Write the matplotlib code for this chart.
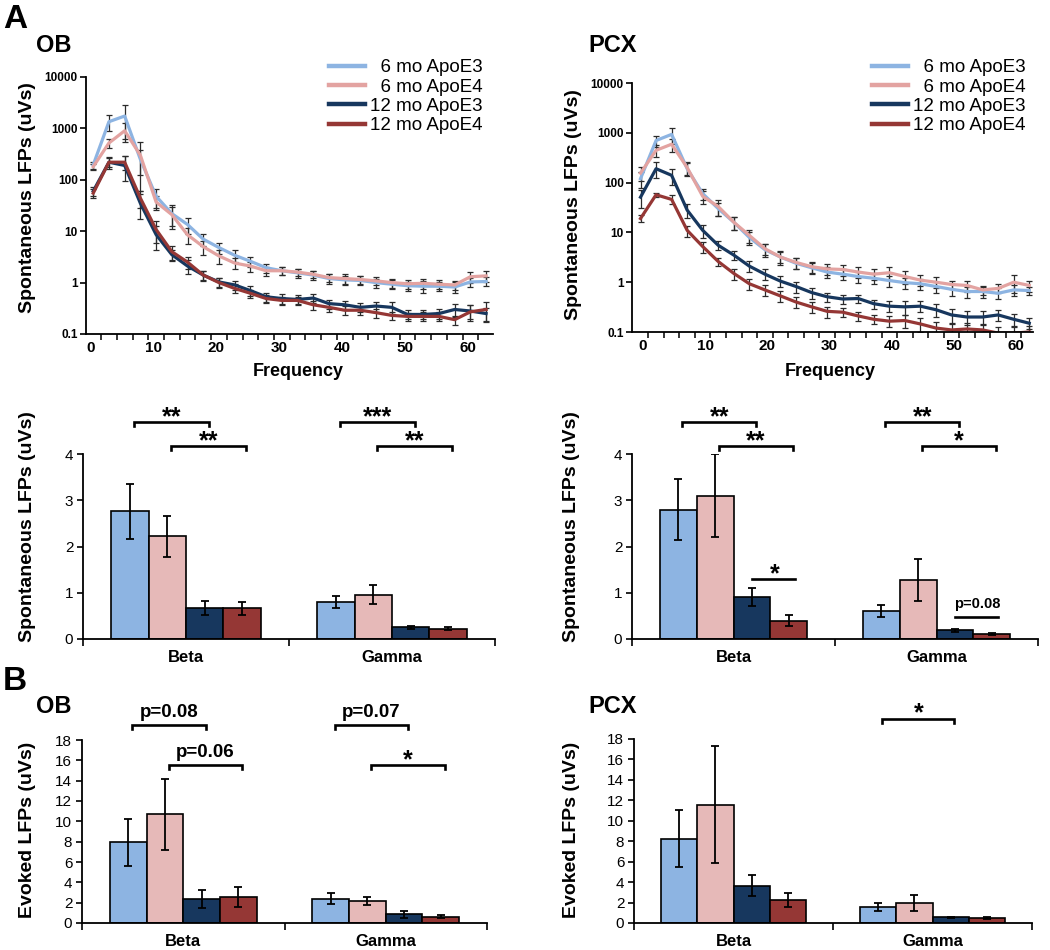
import numpy as np
import matplotlib
matplotlib.use("Agg")
import matplotlib.pyplot as plt
from matplotlib.ticker import FixedLocator, NullLocator, NullFormatter

plt.rcParams['font.family'] = ['Liberation Sans', 'DejaVu Sans']

groups = ['  6 mo ApoE3', '  6 mo ApoE4', '12 mo ApoE3', '12 mo ApoE4']
line_colors = ['#8db4e2', '#e3a3a1', '#17375e', '#953735']
bar_colors = ['#8db4e2', '#e6b9b8', '#17375e', '#953735']
bands = ['Beta', 'Gamma']

# spontaneous LFP spectra (uVs), one value per frequency bin
freq_ob = [0.4, 2.9, 5.4, 7.9, 10.4, 12.9, 15.4, 17.9, 20.4, 22.9, 25.4, 27.9, 30.4,
           32.9, 35.4, 37.9, 40.4, 42.9, 45.4, 47.9, 50.4, 52.9, 55.4, 57.9, 60.4, 62.9]
freq_pcx = [-0.4, 2.1, 4.6, 7.1, 9.6, 12.1, 14.6, 17.1, 19.6, 22.1, 24.6, 27.1, 29.6,
            32.1, 34.6, 37.1, 39.6, 42.1, 44.6, 47.1, 49.6, 52.1, 54.6, 57.1, 59.6, 62.1]

ob_e3_6 = [195, 1350, 1740, 250, 48, 22, 13.5, 7, 4.8, 3.4, 2.6, 1.95, 1.7, 1.55, 1.4,
           1.2, 1.13, 1.1, 1.0, 0.93, 0.87, 0.85, 0.85, 0.82, 1.03, 1.05]
ob_e4_6 = [180, 520, 900, 300, 37, 21, 8.5, 5, 3.3, 2.4, 2.1, 1.7, 1.7, 1.6, 1.45,
           1.25, 1.2, 1.15, 1.08, 1.0, 0.95, 0.97, 0.93, 0.9, 1.3, 1.35]
ob_e3_12 = [60, 220, 190, 35, 8.6, 3.5, 2.1, 1.4, 1.03, 0.9, 0.7, 0.53, 0.49, 0.47, 0.5,
            0.39, 0.37, 0.33, 0.35, 0.33, 0.24, 0.24, 0.25, 0.3, 0.28, 0.25]
ob_e4_12 = [55, 220, 220, 44, 10.8, 4.0, 2.5, 1.4, 1.0, 0.77, 0.62, 0.49, 0.45, 0.45, 0.37,
            0.33, 0.29, 0.29, 0.26, 0.23, 0.22, 0.22, 0.22, 0.19, 0.27, 0.3]

ob_e3_6_rel = [0.15, 0.35, 0.65, 0.5, 0.4, 0.5, 0.35, 0.25, 0.25, 0.25, 0.22, 0.2, 0.18,
               0.2, 0.2, 0.2, 0.2, 0.2, 0.2, 0.2, 0.2, 0.25, 0.2, 0.25, 0.2, 0.2]
ob_e4_6_rel = [0.15, 0.2, 0.4, 0.8, 0.3, 0.4, 0.35, 0.3, 0.3, 0.25, 0.22, 0.2, 0.18,
               0.15, 0.15, 0.18, 0.2, 0.18, 0.18, 0.2, 0.2, 0.22, 0.2, 0.2, 0.25, 0.25]
ob_e3_12_rel = [0.2, 0.25, 0.5, 0.5, 0.5, 0.25, 0.3, 0.2, 0.2, 0.22, 0.2, 0.2, 0.2,
                0.2, 0.2, 0.2, 0.2, 0.2, 0.22, 0.25, 0.2, 0.2, 0.2, 0.3, 0.3, 0.3]
ob_e4_12_rel = [0.2, 0.2, 0.3, 0.35, 0.45, 0.3, 0.25, 0.22, 0.22, 0.2, 0.18, 0.18, 0.18,
                0.18, 0.2, 0.2, 0.2, 0.2, 0.2, 0.18, 0.18, 0.2, 0.2, 0.2, 0.35, 0.4]

pcx_e3_6 = [120, 700, 930, 190, 60, 30, 16, 7.9, 4.5, 3.2, 2.4, 1.95, 1.6, 1.45, 1.3,
            1.2, 1.08, 0.98, 0.93, 0.82, 0.72, 0.65, 0.65, 0.6, 0.7, 0.68]
pcx_e4_6 = [155, 445, 590, 200, 53, 33, 16, 8.7, 4.7, 3.2, 2.5, 2.05, 1.85, 1.8, 1.6,
            1.45, 1.55, 1.3, 1.1, 1.0, 0.9, 0.86, 0.7, 0.75, 1.0, 0.86]
pcx_e3_12 = [51, 190, 140, 28, 11, 5.5, 3.5, 2.1, 1.45, 1.05, 0.82, 0.62, 0.51, 0.46, 0.47,
             0.37, 0.33, 0.32, 0.33, 0.28, 0.22, 0.2, 0.2, 0.22, 0.18, 0.15]
pcx_e4_12 = [19, 57, 46, 11, 5.2, 2.6, 1.5, 0.93, 0.7, 0.53, 0.4, 0.32, 0.26, 0.25, 0.21,
             0.18, 0.165, 0.17, 0.145, 0.12, 0.11, 0.115, 0.11, 0.095, 0.095, 0.1]

pcx_e3_6_rel = [0.35, 0.25, 0.35, 0.3, 0.25, 0.3, 0.3, 0.3, 0.3, 0.3, 0.25, 0.25, 0.25,
                0.25, 0.25, 0.25, 0.25, 0.25, 0.25, 0.25, 0.25, 0.25, 0.25, 0.25, 0.25, 0.2]
pcx_e4_6_rel = [0.3, 0.25, 0.3, 0.3, 0.3, 0.35, 0.3, 0.3, 0.25, 0.25, 0.25, 0.25, 0.25,
                0.25, 0.25, 0.25, 0.3, 0.3, 0.25, 0.25, 0.2, 0.25, 0.2, 0.2, 0.4, 0.25]
pcx_e3_12_rel = [0.4, 0.35, 0.35, 0.3, 0.3, 0.2, 0.2, 0.25, 0.25, 0.25, 0.25, 0.25, 0.2,
                 0.2, 0.2, 0.2, 0.25, 0.3, 0.25, 0.3, 0.3, 0.3, 0.3, 0.25, 0.25, 0.25]
pcx_e4_12_rel = [0.15, 0.1, 0.2, 0.25, 0.25, 0.2, 0.25, 0.25, 0.25, 0.25, 0.25, 0.25, 0.25,
                 0.2, 0.2, 0.2, 0.25, 0.3, 0.3, 0.3, 0.3, 0.3, 0.3, 0.3, 0.3, 0.3]

# band averages: [6mo E3, 6mo E4, 12mo E3, 12mo E4]
ob_spont_beta = [2.76, 2.22, 0.67, 0.66]
ob_spont_beta_err = [0.6, 0.44, 0.16, 0.14]
ob_spont_gamma = [0.79, 0.96, 0.25, 0.22]
ob_spont_gamma_err = [0.13, 0.2, 0.04, 0.03]

pcx_spont_beta = [2.80, 3.10, 0.91, 0.40]
pcx_spont_beta_err = [0.65, 0.89, 0.2, 0.11]
pcx_spont_gamma = [0.60, 1.28, 0.19, 0.11]
pcx_spont_gamma_err = [0.13, 0.46, 0.03, 0.015]

ob_evoked_beta = [7.92, 10.70, 2.36, 2.52]
ob_evoked_beta_err = [2.35, 3.5, 0.9, 0.98]
ob_evoked_gamma = [2.39, 2.16, 0.85, 0.62]
ob_evoked_gamma_err = [0.56, 0.4, 0.36, 0.12]

pcx_evoked_beta = [8.25, 11.57, 3.65, 2.22]
pcx_evoked_beta_err = [2.77, 5.7, 1.0, 0.68]
pcx_evoked_gamma = [1.56, 1.96, 0.55, 0.46]
pcx_evoked_gamma_err = [0.4, 0.8, 0.08, 0.08]

# significance marks: (band, bar a, bar b, level, label, style)
ob_spont_sig = [(0, 0, 2, 4.69, '**', 'b'), (0, 1, 3, 4.17, '**', 'b'),
                (1, 0, 2, 4.69, '***', 'b'), (1, 1, 3, 4.17, '**', 'b')]
pcx_spont_sig = [(0, 0, 2, 4.69, '**', 'b'), (0, 1, 3, 4.17, '**', 'b'),
                 (0, 2, 3, 1.30, '*', 'l'), (1, 0, 2, 4.69, '**', 'b'),
                 (1, 1, 3, 4.17, '*', 'b'), (1, 2, 3, 0.48, 'p=0.08', 'l')]
ob_evoked_sig = [(0, 0, 2, 19.47, 'p=0.08', 'b'), (0, 1, 3, 15.54, 'p=0.06', 'b'),
                 (1, 0, 2, 19.47, 'p=0.07', 'b'), (1, 1, 3, 15.54, '*', 'b')]
pcx_evoked_sig = [(1, 0, 2, 19.99, '*', 'b')]

W, H = 1050, 950
fig = plt.figure(figsize=(W / 100, H / 100), dpi=100)


def rect(l, t, r, b):
    return [l / W, 1 - b / H, (r - l) / W, (b - t) / H]


def ftext(x, y, s, **kw):
    return fig.text(x / W, 1 - y / H, s, **kw)


def style_axes(ax):
    for s in ['top', 'right']:
        ax.spines[s].set_visible(False)
    for s in ['left', 'bottom']:
        ax.spines[s].set_linewidth(1.3)


def line_panel(r, freq, series, rels, xlim, legend_xy):
    ax = fig.add_axes(r)
    style_axes(ax)
    for vals, rel, c in zip(series, rels, line_colors):
        v = np.array(vals)
        e = v * np.array(rel)
        ax.errorbar(freq, v, yerr=e, color=c, lw=2.3, ecolor='#2b2b2b',
                    elinewidth=0.9, capsize=2.3, capthick=0.9)
    ax.set_yscale('log')
    ax.set_ylim(0.1, 10000)
    ax.set_xlim(*xlim)
    ax.yaxis.set_major_locator(FixedLocator([0.1, 1, 10, 100, 1000, 10000]))
    ax.set_yticklabels(['0.1', '1', '10', '100', '1000', '10000'],
                       fontsize=8.5, fontweight='bold')
    ax.yaxis.set_minor_locator(NullLocator())
    ax.tick_params(axis='y', direction='out', length=4, width=1.2, pad=2)
    ax.set_xticks([0, 10, 20, 30, 40, 50, 60])
    ax.set_xticklabels(['0', '10', '20', '30', '40', '50', '60'],
                       fontsize=11, fontweight='bold')
    f = np.array(freq)
    ax.xaxis.set_minor_locator(FixedLocator((f[:-1] + f[1:]) / 2))
    ax.tick_params(axis='x', which='major', length=0, pad=5)
    ax.tick_params(axis='x', which='minor', direction='out', length=4, width=1.1)
    handles = [plt.Line2D([], [], color=c, lw=3.2) for c in line_colors]
    ax.legend(handles, groups, loc='upper right', bbox_to_anchor=legend_xy,
              bbox_transform=fig.transFigure, frameon=False, fontsize=13.5,
              labelspacing=0.12, handlelength=1.9, handletextpad=0.3,
              borderpad=0, borderaxespad=0)
    return ax


def bar_panel(r, beta, beta_err, gamma, gamma_err, ymax, yticks, sig):
    ax = fig.add_axes(r)
    style_axes(ax)
    w = 0.181
    centers = []
    for g, (m, e) in enumerate([(beta, beta_err), (gamma, gamma_err)]):
        xs = g + 0.5 + (np.arange(4) - 1.5) * w
        centers.append(xs)
        ax.bar(xs, m, w, yerr=e, color=bar_colors, edgecolor='black', linewidth=1.2,
               error_kw=dict(elinewidth=1.3, capsize=2.8, capthick=1.3, ecolor='black'),
               zorder=2)
    ax.set_xlim(0, 2)
    ax.set_ylim(0, ymax)
    ax.set_yticks(yticks)
    ax.set_yticklabels([str(t) for t in yticks], fontsize=11)
    ax.tick_params(axis='y', direction='out', length=4, width=1.2, pad=3)
    ax.set_xticks([0, 1, 2])
    ax.xaxis.set_major_formatter(NullFormatter())
    ax.tick_params(axis='x', which='major', direction='out', length=5, width=1.2)
    ax.xaxis.set_minor_locator(FixedLocator([0.5, 1.5]))
    ax.set_xticklabels(bands, minor=True, fontsize=12, fontweight='bold')
    ax.tick_params(axis='x', which='minor', length=0, pad=8)

    d = ymax * 0.022
    for g, a, b, y, lab, kind in sig:
        x1 = centers[g][a] + 0.02
        x2 = centers[g][b] + 0.02
        if kind == 'b':
            ax.plot([x1, x1, x2, x2], [y - d, y, y, y - d], color='black', lw=1.9,
                    clip_on=False, solid_joinstyle='miter')
        else:
            ax.plot([x1 - 0.02, x2 + 0.01], [y, y], color='black', lw=1.9, clip_on=False)
        if lab.startswith('p'):
            small = kind == 'l'
            ax.annotate(lab, ((x1 + x2) / 2, y), xytext=(0, 6.5 if small else 6),
                        textcoords='offset points', ha='center', va='baseline',
                        fontsize=10.5 if small else 13.5, fontweight='bold',
                        annotation_clip=False)
        else:
            ax.annotate(lab, ((x1 + x2) / 2, y), xytext=(0, -1.5),
                        textcoords='offset points', ha='center', va='baseline',
                        fontsize=18, fontweight='bold', annotation_clip=False)
    return ax


line_panel(rect(86, 77, 493, 334), freq_ob, [ob_e3_6, ob_e4_6, ob_e3_12, ob_e4_12],
           [ob_e3_6_rel, ob_e4_6_rel, ob_e3_12_rel, ob_e4_12_rel], (-0.75, 64.0),
           (483 / W, 1 - 59 / H))
line_panel(rect(632, 83, 1033, 332), freq_pcx, [pcx_e3_6, pcx_e4_6, pcx_e3_12, pcx_e4_12],
           [pcx_e3_6_rel, pcx_e4_6_rel, pcx_e3_12_rel, pcx_e4_12_rel], (-1.77, 62.7),
           (1026 / W, 1 - 59 / H))

bar_panel(rect(83, 454, 495, 639), ob_spont_beta, ob_spont_beta_err,
          ob_spont_gamma, ob_spont_gamma_err, 4, [0, 1, 2, 3, 4], ob_spont_sig)
bar_panel(rect(632, 454, 1038, 639), pcx_spont_beta, pcx_spont_beta_err,
          pcx_spont_gamma, pcx_spont_gamma_err, 4, [0, 1, 2, 3, 4], pcx_spont_sig)
bar_panel(rect(82, 740, 487, 923), ob_evoked_beta, ob_evoked_beta_err,
          ob_evoked_gamma, ob_evoked_gamma_err, 18, list(range(0, 19, 2)), ob_evoked_sig)
bar_panel(rect(634, 739, 1032, 923), pcx_evoked_beta, pcx_evoked_beta_err,
          pcx_evoked_gamma, pcx_evoked_gamma_err, 18, list(range(0, 19, 2)), pcx_evoked_sig)

# panel letters and region titles
ftext(3, 28, 'A', fontsize=24, fontweight='bold', va='baseline')
ftext(3, 690, 'B', fontsize=24, fontweight='bold', va='baseline')
ftext(36, 52, 'OB', fontsize=17, fontweight='bold', va='baseline')
ftext(588, 52, 'PCX', fontsize=17, fontweight='bold', va='baseline')
ftext(36, 713, 'OB', fontsize=17, fontweight='bold', va='baseline')
ftext(588, 713, 'PCX', fontsize=17, fontweight='bold', va='baseline')

ftext(298, 372, 'Frequency', fontsize=13, fontweight='bold', ha='center', va='center')
ftext(830, 372, 'Frequency', fontsize=13, fontweight='bold', ha='center', va='center')

ylab_kw = dict(fontsize=14, fontweight='bold', rotation=90, ha='center', va='center')
ftext(28, 198, 'Spontaneous LFPs (uVs)', **ylab_kw)
ftext(573, 205, 'Spontaneous LFPs (uVs)', **ylab_kw)
ftext(28, 527, 'Spontaneous LFPs (uVs)', **ylab_kw)
ftext(572, 527, 'Spontaneous LFPs (uVs)', **ylab_kw)
ftext(28, 830, 'Evoked LFPs (uVs)', **ylab_kw)
ftext(572, 830, 'Evoked LFPs (uVs)', **ylab_kw)

fig.savefig('out.png', dpi=100)
